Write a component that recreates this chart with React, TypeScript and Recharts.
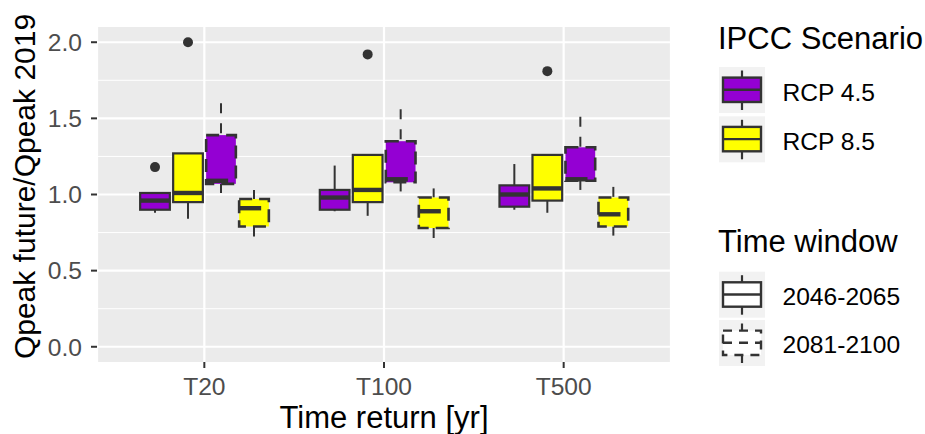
import React from 'react'
import { ComposedChart, Bar, XAxis, YAxis, CartesianGrid } from 'recharts'

const categories = ['T20', 'T100', 'T500']
const yTicks = [0, 0.5, 1, 1.5, 2]
const yMinorTicks = [0.25, 0.75, 1.25, 1.75]

const scenarios = ['RCP 4.5', 'RCP 8.5']
const timeWindows = ['2046-2065', '2081-2100']

// [lower whisker, Q1, median, Q3, upper whisker] for T20, T100, T500
const rcp45Early = [
  [0.88, 0.9, 0.96, 1.01, 1.01],
  [0.89, 0.9, 0.98, 1.03, 1.19],
  [0.9, 0.92, 1.0, 1.06, 1.2],
]
const rcp85Early = [
  [0.84, 0.95, 1.01, 1.27, 1.27],
  [0.86, 0.95, 1.03, 1.26, 1.26],
  [0.88, 0.96, 1.04, 1.26, 1.26],
]
const rcp45Late = [
  [1.01, 1.07, 1.09, 1.39, 1.6],
  [1.02, 1.08, 1.1, 1.35, 1.56],
  [1.03, 1.09, 1.1, 1.31, 1.51],
]
const rcp85Late = [
  [0.72, 0.79, 0.91, 0.97, 1.03],
  [0.71, 0.78, 0.89, 0.98, 1.04],
  [0.73, 0.79, 0.87, 0.98, 1.05],
]

const rcp45EarlyOutliers = [[1.18], [], []]
const rcp85EarlyOutliers = [[2.0], [1.92], [1.81]]
const rcp45LateOutliers = [[], [], []]
const rcp85LateOutliers = [[], [], []]

const INK = '#333333'
const FONT = '"Liberation Sans", Arial, sans-serif'
const scenarioFill = ['#9400D3', '#FFFF00']

const series = [
  { key: 's1', stats: rcp45Early, outliers: rcp45EarlyOutliers, scenario: 0, win: 0 },
  { key: 's2', stats: rcp85Early, outliers: rcp85EarlyOutliers, scenario: 1, win: 0 },
  { key: 's3', stats: rcp45Late, outliers: rcp45LateOutliers, scenario: 0, win: 1 },
  { key: 's4', stats: rcp85Late, outliers: rcp85LateOutliers, scenario: 1, win: 1 },
]

const data = categories.map((category, i) => {
  const row: any = { category }
  series.forEach((s) => {
    row[s.key] = { stats: s.stats[i], outliers: s.outliers[i] }
  })
  return row
})

function boxShape(key: string, fill: string, dashed: boolean) {
  return function BoxShape(props: any) {
    const { x, y, width, height, payload } = props
    const { stats, outliers } = payload[key]
    const [lo, q1, med, q3, hi] = stats
    const top = Math.min(y, y + height)
    const bottom = Math.max(y, y + height)
    // bar spans lower..upper whisker, so interpolate inside it
    const py = (v: number) => top + ((hi - v) / (hi - lo)) * (bottom - top)
    const cx = x + width / 2
    const half = width * 0.45
    const boxDash = dashed ? '13 7' : undefined
    const whiskerDash = dashed ? '10 10' : undefined
    const medDash = dashed ? '22 14' : undefined
    return (
      <g>
        <line x1={cx} x2={cx} y1={py(hi)} y2={py(q3)} stroke={INK} strokeWidth={2} strokeDasharray={whiskerDash} />
        <line x1={cx} x2={cx} y1={py(q1)} y2={py(lo)} stroke={INK} strokeWidth={2} strokeDasharray={whiskerDash} />
        <rect x={cx - half} y={py(q3)} width={half * 2} height={py(q1) - py(q3)}
          fill={fill} stroke={INK} strokeWidth={dashed ? 2.6 : 2.2} strokeDasharray={boxDash} />
        <line x1={cx - half} x2={cx + half} y1={py(med)} y2={py(med)}
          stroke={INK} strokeWidth={4.4} strokeDasharray={medDash} />
        {outliers.map((v: number, j: number) => (
          <circle key={j} cx={cx} cy={py(v)} r={5} fill={INK} />
        ))}
      </g>
    )
  }
}

function XTitle(props: any) {
  const vb = props.viewBox
  return (
    <text x={vb.x + vb.width / 2} y={vb.y + vb.height - 6} textAnchor="middle"
      fontSize={31} fill="#000" fontFamily={FONT}>
      Time return [yr]
    </text>
  )
}

function YTitle(props: any) {
  const vb = props.viewBox
  const x = vb.x + 35
  const y = vb.y + vb.height / 2 - 8
  return (
    <text x={x} y={y} transform={`rotate(-90, ${x}, ${y})`} textAnchor="middle"
      fontSize={30} fill="#000" fontFamily={FONT}>
      Qpeak future/Qpeak 2019
    </text>
  )
}

function LegendKey({ x, y, fill, dashed }: { x: number; y: number; fill: string; dashed: boolean }) {
  const dash = dashed ? '9 7' : undefined
  return (
    <g>
      <rect x={x} y={y} width={46} height={46} fill="#F2F2F2" />
      <line x1={x + 23} x2={x + 23} y1={y + 3.5} y2={y + 10.5} stroke={INK} strokeWidth={2.2} strokeDasharray={dash} />
      <line x1={x + 23} x2={x + 23} y1={y + 35} y2={y + 43} stroke={INK} strokeWidth={2.2} strokeDasharray={dash} />
      <rect x={x + 4} y={y + 10.6} width={38} height={24.4} fill={fill} stroke={INK} strokeWidth={2.4} strokeDasharray={dash} />
      <line x1={x + 4} x2={x + 42} y1={y + 22.8} y2={y + 22.8} stroke={INK} strokeWidth={2.4} strokeDasharray={dash} />
    </g>
  )
}

function LegendPanel() {
  return (
    <svg width={925} height={434} style={{ position: 'absolute', left: 0, top: 0, pointerEvents: 'none' }}
      fontFamily={FONT}>
      <text x={718} y={48.5} fontSize={31} fill="#000">IPCC Scenario</text>
      {scenarios.map((name, i) => (
        <g key={name}>
          <LegendKey x={719} y={67 + i * 49.3} fill={scenarioFill[i]} dashed={false} />
          <text x={782.5} y={100.7 + i * 49.3} fontSize={24.6} fill="#000">{name}</text>
        </g>
      ))}
      <text x={718} y={251.7} fontSize={31} fill="#000">Time window</text>
      {timeWindows.map((name, i) => (
        <g key={name}>
          <LegendKey x={719} y={271.7 + i * 48.3} fill="#FFFFFF" dashed={i === 1} />
          <text x={782.5} y={305 + i * 48.4} fontSize={24.6} fill="#000">{name}</text>
        </g>
      ))}
    </svg>
  )
}

export default function App() {
  return (
    <div style={{ position: 'absolute', left: 0, top: 0, width: 925, height: 434, background: '#fff', fontFamily: FONT }}>
      <ComposedChart width={925} height={434} data={data}
        margin={{ top: 27, right: 254, bottom: 0, left: 0 }}
        barGap={0} barSize={33}>
        <CartesianGrid fill="#EBEBEB" stroke="#FFFFFF" strokeWidth={1} vertical={false}
          horizontalValues={yMinorTicks} />
        <CartesianGrid fill="none" stroke="#FFFFFF" strokeWidth={2.2} horizontalValues={yTicks} />
        <XAxis dataKey="category" height={72} axisLine={false} padding={{ left: 17.5, right: 17.5 }}
          tickSize={6} tickMargin={10} tickLine={{ stroke: INK, strokeWidth: 2 }}
          tick={{ fill: '#4D4D4D', fontSize: 24.6, fontFamily: FONT }}
          label={{ content: XTitle }} />
        <YAxis type="number" domain={[-0.1, 2.1]} ticks={yTicks} width={97} axisLine={false}
          tickFormatter={(v: number) => v.toFixed(1)}
          tickSize={6} tickMargin={9} tickLine={{ stroke: INK, strokeWidth: 2 }}
          tick={{ fill: '#4D4D4D', fontSize: 24.6, fontFamily: FONT }}
          label={{ content: YTitle }} />
        {series.map((s) => (
          <Bar key={s.key} dataKey={(row: any) => [row[s.key].stats[0], row[s.key].stats[4]]}
            shape={boxShape(s.key, scenarioFill[s.scenario], s.win === 1)}
            isAnimationActive={false} />
        ))}
      </ComposedChart>
      <LegendPanel />
    </div>
  )
}
